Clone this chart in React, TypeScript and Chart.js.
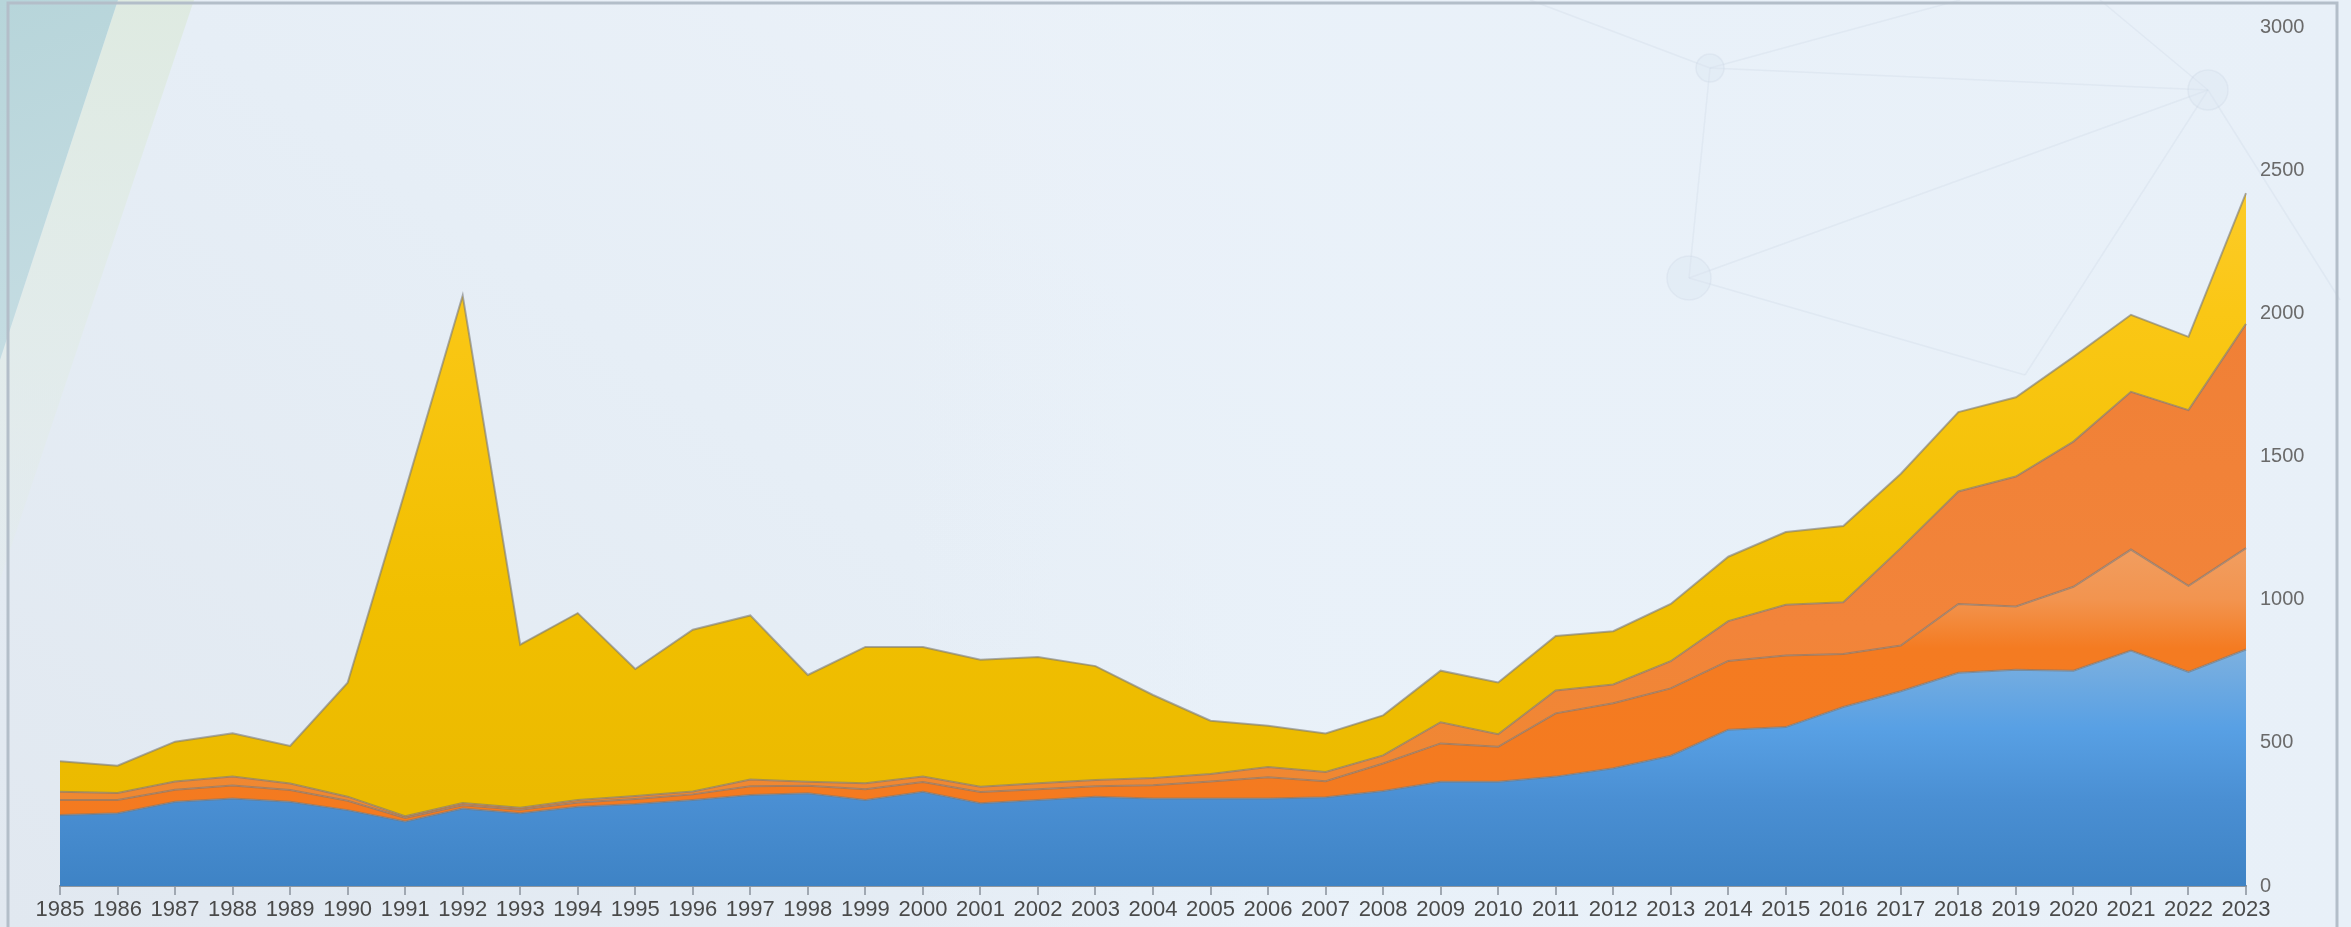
import React, { useEffect, useRef } from "react";
import { Chart, registerables } from "chart.js";

Chart.register(...registerables);

const years = [
  "1985", "1986", "1987", "1988", "1989", "1990", "1991", "1992", "1993", "1994",
  "1995", "1996", "1997", "1998", "1999", "2000", "2001", "2002", "2003", "2004",
  "2005", "2006", "2007", "2008", "2009", "2010", "2011", "2012", "2013", "2014",
  "2015", "2016", "2017", "2018", "2019", "2020", "2021", "2022", "2023",
];

const blueValues = [
  248, 254, 294, 306, 294, 265, 225, 271, 254, 277,
  286, 300, 318, 324, 300, 329, 289, 300, 312, 306,
  306, 306, 310, 332, 364, 364, 382, 411, 455, 546,
  555, 625, 680, 745, 755, 752, 822, 748, 826,
];

const orangeValues = [
  52, 46, 42, 45, 41, 33, 13, 11, 12, 15,
  18, 20, 30, 26, 38, 34, 39, 38, 36, 46,
  59, 74, 56, 96, 134, 122, 221, 227, 235, 240,
  250, 185, 160, 240, 221, 293, 353, 300, 354,
];

const darkOrangeValues = [
  29, 25, 29, 31, 23, 14, 6, 8, 7, 8,
  10, 10, 24, 14, 21, 19, 19, 21, 22, 25,
  26, 36, 32, 28, 74, 44, 80, 66, 95, 139,
  177, 181, 340, 393, 454, 507, 551, 614, 783,
];

const yellowValues = [
  107, 95, 139, 151, 131, 398, 1136, 1772, 570, 653,
  444, 565, 573, 373, 476, 453, 443, 441, 398, 290,
  186, 144, 135, 140, 180, 181, 190, 186, 200, 225,
  254, 266, 260, 277, 277, 296, 269, 256, 457,
];

const yTicks = [0, 500, 1000, 1500, 2000, 2500, 3000];

const FONT = "'Liberation Sans', Arial, sans-serif";

function valueGradient(stops: [number, string][]) {
  return (ctx: any) => {
    const chart = ctx.chart;
    const { chartArea, scales } = chart;
    if (!chartArea || !scales || !scales.y) return stops[0][1];
    const y = scales.y;
    const bottom = y.getPixelForValue(0);
    const top = y.getPixelForValue(3000);
    const g = chart.ctx.createLinearGradient(0, bottom, 0, top);
    stops.forEach(([v, c]) => g.addColorStop(Math.min(1, Math.max(0, v / 3000)), c));
    return g;
  };
}

const backgroundPlugin = {
  id: "pageBackground",
  beforeDraw(chart: any) {
    const c = chart.ctx as CanvasRenderingContext2D;
    const W = chart.width;
    const H = chart.height;
    c.save();
    const base = c.createLinearGradient(0, H, 900, -300);
    base.addColorStop(0, "#e1e8f0");
    base.addColorStop(0.55, "#e6eef6");
    base.addColorStop(1, "#ecf2f9");
    c.fillStyle = base;
    c.fillRect(0, 0, W, H);
    const right = c.createLinearGradient(900, 0, W, 0);
    right.addColorStop(0, "rgba(233,241,249,0)");
    right.addColorStop(0.3, "rgba(233,241,249,0.9)");
    right.addColorStop(1, "rgba(232,240,248,1)");
    c.fillStyle = right;
    c.fillRect(900, 0, W - 900, H);

    // pale stripe
    const sg = c.createLinearGradient(0, 0, 0, 600);
    sg.addColorStop(0, "rgba(222,234,224,0.95)");
    sg.addColorStop(1, "rgba(226,236,232,0.3)");
    c.fillStyle = sg;
    c.beginPath();
    c.moveTo(118, 0);
    c.lineTo(194, 0);
    c.lineTo(0, 580);
    c.lineTo(0, 360);
    c.closePath();
    c.fill();

    // teal triangle
    const tg = c.createLinearGradient(0, 0, 120, 360);
    tg.addColorStop(0, "#b7d5da");
    tg.addColorStop(1, "#c6dde3");
    c.fillStyle = tg;
    c.beginPath();
    c.moveTo(0, 0);
    c.lineTo(118, 0);
    c.lineTo(0, 360);
    c.closePath();
    c.fill();

    // faint network decoration
    c.strokeStyle = "rgba(200,212,228,0.28)";
    c.lineWidth = 1.5;
    const nodes: [number, number][] = [
      [1710, 68], [1689, 278], [2208, 90], [2025, 375], [1530, 0], [1960, 0], [2340, 300], [2100, 0],
    ];
    const links: [number, number][] = [
      [4, 0], [0, 2], [0, 1], [1, 3], [2, 3], [5, 0], [2, 6], [7, 2], [1, 2],
    ];
    links.forEach(([a, b]) => {
      c.beginPath();
      c.moveTo(nodes[a][0], nodes[a][1]);
      c.lineTo(nodes[b][0], nodes[b][1]);
      c.stroke();
    });
    c.fillStyle = "rgba(218,228,240,0.35)";
    [[1710, 68, 14], [1689, 278, 22], [2208, 90, 20]].forEach(([x, y, r]) => {
      c.beginPath();
      c.arc(x, y, r, 0, Math.PI * 2);
      c.fill();
      c.stroke();
    });

    // frame
    c.strokeStyle = "#b3bec9";
    c.lineWidth = 3;
    c.beginPath();
    c.moveTo(8, H + 5);
    c.lineTo(8, 3);
    c.lineTo(2337, 3);
    c.lineTo(2337, H + 5);
    c.stroke();
    c.restore();
  },
};

export default function App() {
  const canvasRef = useRef<HTMLCanvasElement | null>(null);

  useEffect(() => {
    if (!canvasRef.current) return;
    const border = "rgba(120,120,120,0.6)";
    const chart = new Chart(canvasRef.current, {
      type: "line",
      data: {
        labels: years,
        datasets: [
          {
            label: "Blue",
            data: blueValues,
            fill: "origin",
            backgroundColor: valueGradient([
              [0, "#3e83c5"],
              [300, "#4a8fd3"],
              [550, "#58a0e4"],
              [850, "#80b2df"],
            ]),
            borderColor: border,
          },
          {
            label: "Orange",
            data: orangeValues,
            fill: "-1",
            backgroundColor: valueGradient([
              [0, "#f47a1f"],
              [830, "#f47b21"],
              [1000, "#f2944f"],
              [1200, "#f19f62"],
            ]),
            borderColor: border,
          },
          {
            label: "Dark orange",
            data: darkOrangeValues,
            fill: "-1",
            backgroundColor: valueGradient([
              [0, "#ee8a2c"],
              [900, "#f2843a"],
              [2000, "#f08036"],
            ]),
            borderColor: border,
          },
          {
            label: "Yellow",
            data: yellowValues,
            fill: "-1",
            backgroundColor: valueGradient([
              [300, "#ebba00"],
              [1000, "#f1bf00"],
              [2000, "#fac715"],
              [2500, "#fdcc2c"],
            ]),
            borderColor: border,
          },
        ],
      },
      options: {
        responsive: false,
        animation: false,
        events: [],
        layout: { padding: { left: 60, right: 45, top: 27, bottom: 0 } },
        elements: {
          line: { tension: 0, borderWidth: 2 },
          point: { radius: 0 },
        },
        plugins: {
          legend: { display: false },
          tooltip: { enabled: false },
          filler: { propagate: false },
        },
        scales: {
          x: {
            type: "category",
            offset: false,
            grid: {
              display: true,
              drawOnChartArea: false,
              drawTicks: true,
              tickLength: 9,
              color: "#a0a8b2",
              lineWidth: 2,
            },
            border: { display: true, color: "#8f979f", width: 2 },
            ticks: {
              color: "#4a4a4a",
              font: { family: FONT, size: 22 },
              padding: 2,
              maxRotation: 0,
              minRotation: 0,
              autoSkip: false,
            },
            afterFit: (s: any) => {
              s.height = 41;
            },
          },
          y: {
            position: "right",
            stacked: true,
            min: 0,
            max: 3000,
            afterBuildTicks: (s: any) => {
              s.ticks = yTicks.map((v) => ({ value: v }));
            },
            grid: { display: false, drawTicks: false },
            border: { display: false },
            ticks: {
              color: "#6a6a6a",
              font: { family: FONT, size: 20 },
              padding: 14,
              callback: (v: any) => String(v),
            },
            afterFit: (s: any) => {
              s.width = 60;
            },
          },
        },
      },
      plugins: [backgroundPlugin],
    });
    return () => chart.destroy();
  }, []);

  return (
    <div style={{ position: "fixed", left: 0, top: 0, width: 2351, height: 927 }}>
      <canvas ref={canvasRef} width={2351} height={927} style={{ display: "block" }} />
    </div>
  );
}
